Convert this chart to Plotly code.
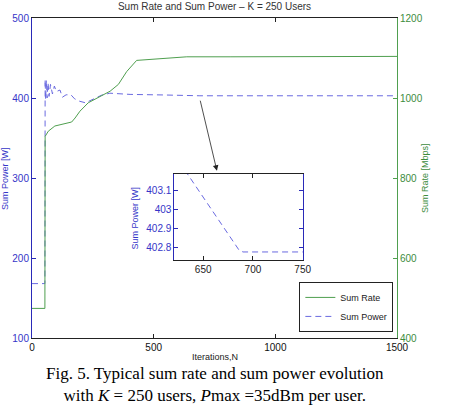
import plotly.graph_objects as go

# ---- data ----
rate_iter = [0, 53, 54, 67, 94, 163, 177, 197, 231, 279, 321, 355, 389, 430, 512, 636, 814, 1500]
rate_mbps = [474, 474, 904, 917, 930, 940, 950, 967, 988, 1004, 1017, 1034, 1066, 1094, 1098, 1103, 1103, 1104]

power_iter = [0, 53, 54, 56, 59, 62, 66, 70, 76, 84, 92, 100, 115, 125, 140, 160, 175, 195, 220, 245,
              286, 320, 348, 403, 540, 634, 686, 690, 1500]
power_w = [168, 168, 423, 398, 422, 400, 419, 402, 417, 405, 415, 408, 410, 401, 404, 404, 399, 396, 394, 398,
           403.5, 406, 405.5, 404.5, 403.8, 403.19, 402.785, 402.775, 402.775]

x_ticks = [0, 500, 1000, 1500]
power_ticks = [100, 200, 300, 400, 500]
rate_ticks = [400, 600, 800, 1000, 1200]
inset_x_ticks = [650, 700, 750]
inset_y_ticks = [402.8, 402.9, 403.0, 403.1]
inset_y_labels = ["402.8", "402.9", "403", "403.1"]

BLUE_TXT = "#3535c8"
BLUE_LINE = "#6a6ae0"
GREEN_TXT = "#3d8c3d"
GREEN_LINE = "#4f9f4f"
FONT = "Arial, Liberation Sans, sans-serif"
SERIF = "Liberation Serif, Times New Roman, serif"

fig = go.Figure()
fig.add_trace(go.Scatter(x=rate_iter, y=rate_mbps, mode="lines", name="Sum Rate",
                         line=dict(color=GREEN_LINE, width=1), yaxis="y2", xaxis="x"))
fig.add_trace(go.Scatter(x=power_iter, y=power_w, mode="lines", name="Sum Power",
                         line=dict(color=BLUE_LINE, width=1, dash="6px,4px"), yaxis="y", xaxis="x"))
fig.add_trace(go.Scatter(x=power_iter, y=power_w, mode="lines", showlegend=False,
                         line=dict(color=BLUE_LINE, width=1, dash="6px,4px"), xaxis="x3", yaxis="y3"))

axis_common = dict(showgrid=False, zeroline=False, ticks="inside", ticklen=4, showline=True, linewidth=1)

fig.update_layout(
    width=456, height=406,
    margin=dict(l=32, r=59, t=16, b=68),
    paper_bgcolor="white", plot_bgcolor="white",
    font=dict(family=FONT, size=10, color="#222"),
    title=dict(text="Sum Rate and Sum Power \u2013 K = 250 Users", x=214.5 / 456, xanchor="center",
               y=1 - 6 / 406, yanchor="middle", font=dict(size=10, color="#333", family=FONT)),
    xaxis=dict(range=[0, 1500], tickvals=x_ticks, mirror="ticks", linecolor="#222", tickcolor="#222",
               tickfont=dict(size=10, color="#111"), domain=[0, 1], **axis_common),
    yaxis=dict(range=[100, 500], tickvals=power_ticks, linecolor="#2a2ab8", tickcolor="#2a2ab8",
               tickfont=dict(size=10, color=BLUE_TXT), **axis_common),
    yaxis2=dict(range=[400, 1200], tickvals=rate_ticks, overlaying="y", side="right", linecolor=GREEN_LINE,
                tickcolor=GREEN_LINE, tickfont=dict(size=10, color=GREEN_TXT), **axis_common),
    xaxis3=dict(range=[621, 750], tickvals=inset_x_ticks, domain=[0.390, 0.7416], anchor="y3",
                mirror="ticks", linecolor="#222", tickcolor="#222", tickfont=dict(size=10, color="#222"),
                **axis_common),
    yaxis3=dict(range=[402.735, 403.19], tickvals=inset_y_ticks, ticktext=inset_y_labels,
                domain=[0.2453, 0.5134], anchor="x3", mirror="ticks", linecolor="#2a2ab8",
                tickcolor="#2a2ab8", tickfont=dict(size=10, color=BLUE_TXT), **axis_common),
    legend=dict(x=0.99, y=0.019, xanchor="right", yanchor="bottom", bgcolor="white", bordercolor="#222",
                borderwidth=1, font=dict(size=9, color="#222"), tracegroupgap=0),
    showlegend=True,
)

fig.add_annotation(x=760, y=309, ax=690, ay=398.5, xref="x", yref="y", axref="x", ayref="y",
                   text="", showarrow=True, arrowhead=2, arrowsize=1.4, arrowwidth=0.8, arrowcolor="#222")

fig.add_annotation(text="Sum Power [W]", x=-0.074, y=0.5, xref="paper", yref="paper", showarrow=False,
                   textangle=-90, font=dict(size=9, color=BLUE_TXT), xanchor="center", yanchor="middle")
fig.add_annotation(text="Sum Rate [Mbps]", x=1.0767, y=0.5, xref="paper", yref="paper", showarrow=False,
                   textangle=-90, font=dict(size=9, color=GREEN_TXT), xanchor="center", yanchor="middle")
fig.add_annotation(text="Sum Power [W]", x=0.282, y=0.376, xref="paper", yref="paper", showarrow=False,
                   textangle=-90, font=dict(size=9, color=BLUE_TXT), xanchor="center", yanchor="middle")
fig.add_annotation(text="Iterations,N", x=(215 - 32) / 365, y=(338 - 357) / 322, xref="paper", yref="paper",
                   showarrow=False, font=dict(size=9, color="#222"), xanchor="center", yanchor="middle")
fig.add_annotation(text="Fig. 5. Typical sum rate and sum power evolution<br>"
                        "with <i>K</i> = 250 users, <i>P</i>max =35dBm per user.",
                   x=(215 - 32) / 365, y=(338 - 385) / 322, xref="paper", yref="paper", showarrow=False,
                   font=dict(size=17, color="#000", family=SERIF), xanchor="center", yanchor="middle",
                   align="center")

fig.write_html("out.html")
